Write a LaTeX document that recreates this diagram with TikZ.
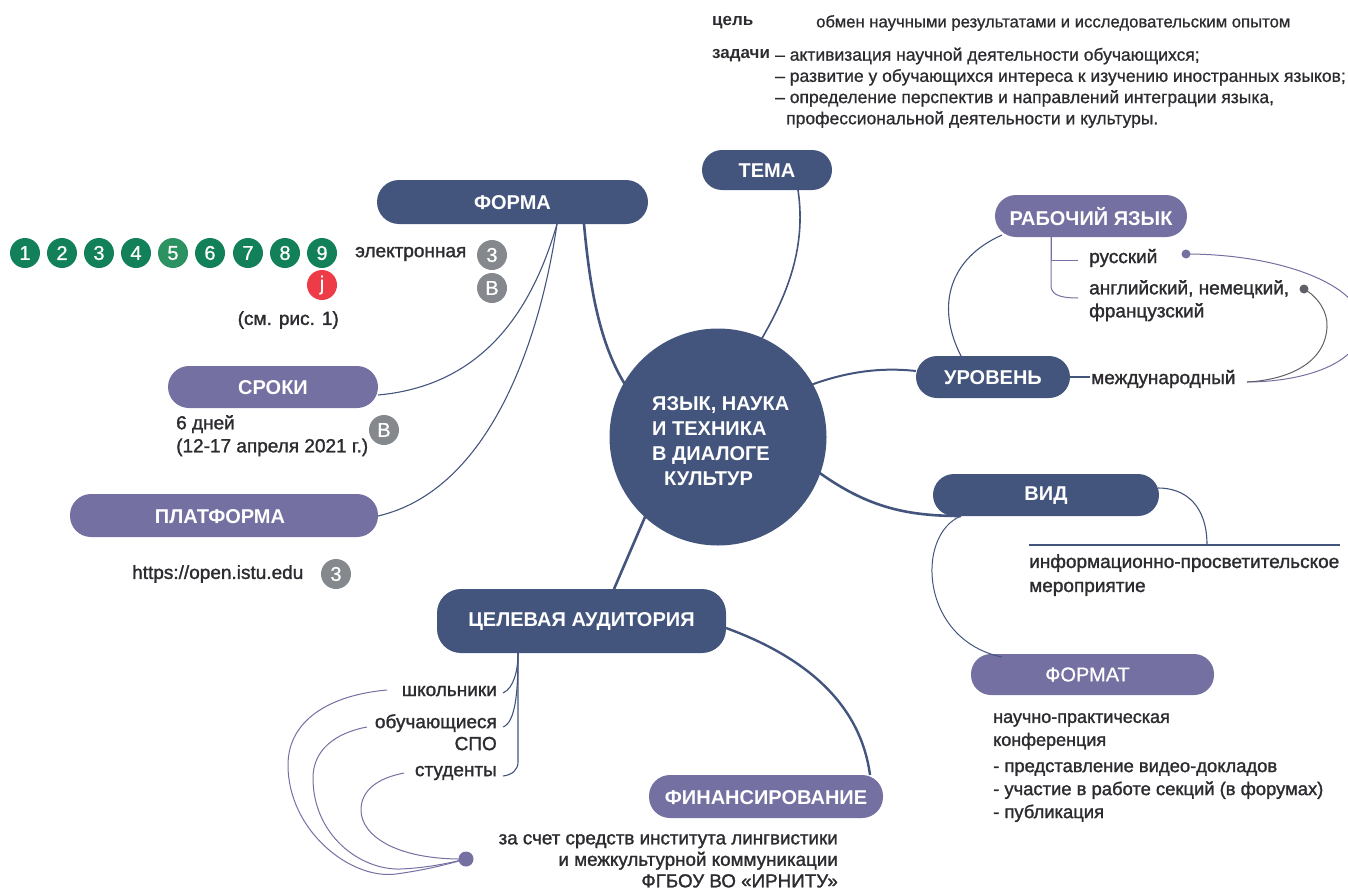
\documentclass[tikz,border=0pt]{standalone}
\usepackage{fontspec}
\setmainfont{Liberation Sans}
\newfontfamily\medfont[FakeBold=1.4]{Liberation Sans}
\newfontfamily\topfont[FakeBold=0.8]{Liberation Sans}
\newfontfamily\boldfont{Liberation Sans Bold}
\usetikzlibrary{calc}
\definecolor{navy}{HTML}{43557D}
\definecolor{violet}{HTML}{7470A1}
\definecolor{inkc}{HTML}{2B2B30}
\definecolor{greenb}{HTML}{12815A}
\definecolor{greenl}{HTML}{2C9261}
\definecolor{redb}{HTML}{EE3B48}
\definecolor{greyb}{HTML}{85898D}
\definecolor{dotgrey}{HTML}{5F6066}
\tikzset{
  x=1pt,y=-1pt,
  pill/.style={rounded corners=20pt,text=white,font=\boldfont\fontsize{20}{22}\selectfont,anchor=center,inner sep=0pt},
  lab/.style={text=inkc,font=\medfont\fontsize{19}{23}\selectfont,inner sep=0pt,align=left},
  labr/.style={lab,align=right},
  badge/.style={circle,minimum size=30pt,inner sep=0pt,text=white,font=\topfont\fontsize{20}{20}\selectfont},
  wire/.style={violet,line width=1pt},
  wiren/.style={navy,line width=1.1pt},
  thick wire/.style={navy,line width=2.6pt},
}
\begin{document}
\begin{tikzpicture}
\useasboundingbox (0,0) rectangle (1348,891);
\coordinate (cc) at (718,437);
\coordinate (fS) at (584,224);
\coordinate (fM) at (557,224);
\coordinate (tS) at (798,190);
\coordinate (ws) at (1051,237);
\coordinate (ruE) at (1078,260);
\coordinate (enE) at (1078,298);
\coordinate (rd) at (1186,254);
\coordinate (gd) at (1304,289);
\coordinate (intE) at (1247,382);
\coordinate (ca1) at (518,653);
\coordinate (dotP) at (466,859);
\coordinate (vidj) at (961,516);
\node[circle,fill=navy,minimum size=217pt,inner sep=0pt] (center) at (cc) {};
\node[pill,fill=navy,minimum width=271pt,minimum height=44pt,rounded corners=22pt] (forma) at (512.5,202) {};
\node[pill,fill=navy,minimum width=130pt,minimum height=40pt] (tema) at (767,170) {};
\node[pill,fill=violet,minimum width=192pt,minimum height=42pt,rounded corners=21pt] (rab) at (1091,216) {};
\node[pill,fill=navy,minimum width=154pt,minimum height=42pt,rounded corners=21pt] (urov) at (993,377) {};
\node[pill,fill=navy,minimum width=226pt,minimum height=42pt,rounded corners=21pt] (vid) at (1046,495) {};
\node[pill,fill=violet,minimum width=243pt,minimum height=41pt,rounded corners=20pt] (fmt) at (1092.5,674.5) {};
\node[pill,fill=violet,minimum width=210pt,minimum height=42pt,rounded corners=21pt] (sroki) at (273,387) {};
\node[pill,fill=violet,minimum width=308pt,minimum height=43pt,rounded corners=21pt] (plat) at (224,515.5) {};
\node[pill,fill=navy,minimum width=289pt,minimum height=64pt,rounded corners=24pt] (aud) at (581.5,621) {};
\node[pill,fill=violet,minimum width=234pt,minimum height=43pt,rounded corners=21pt] (fin) at (766,796.5) {};
% main branches
\draw[thick wire] (fS) .. controls (590,290) and (600,345) .. (626,386);
\draw[navy,line width=1.6pt] (tS) .. controls (807,250) and (785,300) .. (758,345);
\draw[navy,line width=2pt] (urov.west) ++(0,-6) .. controls (880,367) and (845,372) .. (808,386);
\draw[thick wire] (vidj) .. controls (900,516) and (860,505) .. (805,462);
\draw[thick wire] (614,589) -- (648,510);
\draw[navy,line width=2.4pt] (726,628) .. controls (800,655) and (860,700) .. (870,775);
% left branches
\draw[wiren] (fM) .. controls (535,300) and (490,385) .. (378,395);
\draw[wiren] (fM) .. controls (540,340) and (490,490) .. (378,516);
% language links
\draw[wiren] (1002,235) .. controls (950,258) and (935,305) .. (961,356);
\draw[wire] (ws) -- (ws |- ruE) -- (ruE);
\draw[wire] (ws) -- (1051,285) .. controls (1051,293) and (1056,298) .. (enE);
\draw[wire] (rd) .. controls (1280,254) and (1362,285) .. (1362,325) .. controls (1362,365) and (1300,382) .. (intE);
\draw[dotgrey,line width=1pt] (gd) .. controls (1318,297) and (1328,312) .. (1327,327) .. controls (1325,365) and (1285,380) .. (intE);
\fill[violet] (rd) circle (4.5pt);
\fill[dotgrey] (gd) circle (4.5pt);
\draw[navy,line width=1.1pt] (urov.east) -- (1090,377);
% vid
\draw[wiren] (vid.east) ++(-1,-7) .. controls (1185,488) and (1207,505) .. (1207,545);
\draw[navy,line width=1.1pt] (1029,545) -- (1340,545);
\draw[navy,line width=1pt] (vidj) .. controls (915,535) and (920,640) .. (1002,657);
% audience tree
\draw[wiren] (ca1) .. controls (518,670) and (514,688) .. (503,693);
\draw[wiren] (ca1) .. controls (518,690) and (516,722) .. (503,727);
\draw[wiren] (ca1) -- (518,762) .. controls (518,770) and (512,775) .. (503,776);
% curves to the dot
\draw[wire] (387,690) .. controls (330,695) and (288,720) .. (288,765) .. controls (288,830) and (350,880) .. (396,874) .. controls (425,870) and (445,865) .. (dotP);
\draw[wire] (367,727) .. controls (335,733) and (313,750) .. (313,778) .. controls (313,835) and (360,870) .. (400,869) .. controls (425,868) and (445,864) .. (dotP);
\draw[wire] (404,773) .. controls (378,778) and (361,790) .. (361,810) .. controls (361,835) and (395,860) .. (dotP);
\fill[violet] (dotP) circle (7.5pt);
% pill labels
\path (forma) +(0,1) node[pill] (tforma) {ФОРМА};
\path (tema) +(0,1) node[pill] (ttema) {ТЕМА};
\path (rab) +(0,1) node[pill] (trab) {РАБОЧИЙ ЯЗЫК};
\path (urov) +(0,1) node[pill] (turov) {УРОВЕНЬ};
\path (vid) +(0,1) node[pill] (tvid) {ВИД};
\path (fmt) +(-5,0) node[pill,font=\topfont\fontsize{20}{22}\selectfont] (tfmt) {ФОРМАТ};
\path (sroki) +(0,1) node[pill] (tsroki) {СРОКИ};
\path (plat) +(-4,1) node[pill] (tplat) {ПЛАТФОРМА};
\path (aud) +(0,1) node[pill] (taud) {ЦЕЛЕВАЯ АУДИТОРИЯ};
\path (fin) +(0,1) node[pill] (tfin) {ФИНАНСИРОВАНИЕ};
\node[text=white,font=\boldfont\fontsize{20}{25}\selectfont,align=left,inner sep=0pt,anchor=north west] (ctitle) at (652,396) {ЯЗЫК, НАУКА\\И ТЕХНИКА\\В ДИАЛОГЕ\\\hspace*{12pt}КУЛЬТУР};
% top text
\node[lab,anchor=west,font=\boldfont\fontsize{17}{20}\selectfont] (tgoal) at (712,23) {цель};
\node[lab,anchor=west,font=\topfont\fontsize{16.7}{20}\selectfont] (tgoalt) at (816,23) {обмен научными результатами и исследовательским опытом};
\node[lab,anchor=west,font=\boldfont\fontsize{17}{20}\selectfont] (ttask) at (712,56) {задачи};
\node[lab,anchor=north west,font=\topfont\fontsize{17.5}{21.2}\selectfont] (ttaskt) at (775,47.5) {– активизация научной деятельности обучающихся;\\– развитие у обучающихся интереса к изучению иностранных языков;\\– определение перспектив и направлений интеграции языка,\\\hspace*{11pt}профессиональной деятельности и культуры.};
% badges
\foreach \i/\x/\c in {1/25/greenb,2/62/greenb,3/99/greenb,4/136/greenb,5/173/greenl,6/210/greenb,7/248/greenb,8/285/greenb,9/322/greenb}
  \node[badge,fill=\c] (n\i) at (\x,253) {\i};
\node[badge,fill=redb] (nj) at (322,285) {j};
\node[badge,fill=greyb] (g1) at (492,255) {3};
\node[badge,fill=greyb] (g2) at (492,288) {В};
\node[badge,fill=greyb] (g3) at (384,430) {В};
\node[badge,fill=greyb] (g4) at (336,574) {3};
% labels
\node[lab,anchor=west] (lel) at (355,254) {электронная};
\node[lab,anchor=east] (lsee) at (339,320) {(см. рис. 1)};
\node[lab,anchor=north west] (lsr) at (176,415) {6 дней\\(12-17 апреля 2021 г.)};
\node[lab,anchor=west] (lurl) at (132,574) {https://open.istu.edu};
\node[lab,anchor=west] (lru) at (1089,258) {русский};
\node[lab,anchor=north west] (len) at (1089,280) {английский, немецкий,\\французский};
\node[lab,anchor=west] (lint) at (1091,379) {международный};
\node[lab,anchor=north west,font=\medfont\fontsize{19}{24}\selectfont] (linfo) at (1029,554) {информационно-просветительское\\мероприятие};
\node[lab,anchor=north west,font=\medfont\fontsize{18}{23}\selectfont] (lconf) at (993,713) {научно-практическая\\конференция};
\node[lab,anchor=north west,font=\medfont\fontsize{18.4}{23}\selectfont] (llist) at (993,762) {- представление видео-докладов\\- участие в работе секций (в форумах)\\- публикация};
\node[labr,anchor=east] (lsch) at (497,691) {школьники};
\node[labr,anchor=north east,font=\medfont\fontsize{19}{22}\selectfont] (lspo) at (497,714) {обучающиеся\\СПО};
\node[labr,anchor=east] (lst) at (497,773) {студенты};
\node[labr,anchor=north east,font=\medfont\fontsize{18.8}{21.5}\selectfont] (lfund) at (838,834) {за счет средств института лингвистики\\и межкультурной коммуникации\\ФГБОУ ВО «ИРНИТУ»};
\end{tikzpicture}
\end{document}
